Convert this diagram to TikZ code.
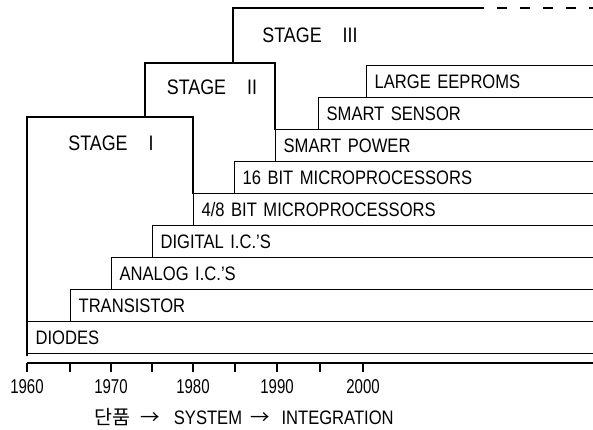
\documentclass[tikz,border=0pt]{standalone}
\usepackage{fontspec}
\setmainfont[FakeStretch=0.85]{Liberation Sans}
\newfontfamily\numfont[FakeStretch=0.75]{Liberation Sans}
\newfontfamily\korfont{Noto Sans CJK KR}
\usetikzlibrary{positioning}

\begin{document}
\begin{tikzpicture}[x=1pt, y=-1pt,
                rowbox/.style={draw, line width=1.3pt, anchor=north west,
                  minimum height=32pt, inner xsep=8pt, inner ysep=0pt,
                  align=left, font=\fontsize{19.5}{21}\selectfont},
                stageline/.style={line width=2.4pt, line cap=rect},
                stagelbl/.style={font=\fontsize{21}{24}\selectfont},
                yearlbl/.style={font=\numfont\fontsize{20}{22}\selectfont}
            ]

            \clip (0,0) rectangle (593,429);

            % technology rows, oldest at the bottom
            \node[rowbox, text width=559pt] (diodes) at (27, 321) {DIODES};
            \node[rowbox, text width=516pt] (trans) at (70, 289) {TRANSISTOR};
            \node[rowbox, text width=475pt] (analog) at (111, 257) {ANALOG I.C.'S};
            \node[rowbox, text width=434pt] (digital) at (152, 225) {DIGITAL I.C.'S};
            \node[rowbox, text width=393pt] (mp48) at (193, 193) {4/8 BIT MICROPROCESSORS};
            \node[rowbox, text width=352pt] (mp16) at (234, 161) {16 BIT MICROPROCESSORS};
            \node[rowbox, text width=311pt] (spower) at (275, 129) {SMART POWER};
            \node[rowbox, text width=268pt] (ssensor) at (318, 97) {SMART SENSOR};
            \node[rowbox, text width=220pt] (eeprom) at (366, 65) {LARGE EEPROMS};

            % stage outlines
            \draw[stageline] (diodes.south west) -- (27, 117) -- (193, 117) -- (mp48.north west);
            \draw[stageline] (145, 117) -- (145, 63) -- (275, 63) -- (spower.north west);
            \draw[stageline] (233, 63) -- (233, 8) -- (483, 8);
            \draw[stageline, line cap=butt, dash pattern=on 10pt off 13pt] (497, 8) -- (600, 8);

            \node[stagelbl] (st1) at (111, 143) {STAGE\quad I};
            \node[stagelbl] (st2) at (212, 87) {STAGE\quad II};
            \node[stagelbl] (st3) at (310, 35) {STAGE\quad III};

            % time axis
            \draw[line width=1.3pt] (27, 363) -- (600, 363);
            \draw[line width=1.3pt] (27, 363) -- (27, 372) (70, 363) -- (70, 372)
                (111, 363) -- (111, 372) (152, 363) -- (152, 372)
                (193, 363) -- (193, 372) (235, 363) -- (235, 372)
                (277, 363) -- (277, 372) (320, 363) -- (320, 372)
                (363, 363) -- (363, 372);

            \node[yearlbl] (y1960) at (27, 387) {1960};
            \node[yearlbl] (y1970) at (111, 387) {1970};
            \node[yearlbl] (y1980) at (193, 387) {1980};
            \node[yearlbl] (y1990) at (277, 387) {1990};
            \node[yearlbl] (y2000) at (363, 387) {2000};

            \node[font=\fontsize{19.5}{22}\selectfont, anchor=west] (trend) at (91, 417)
                {{\korfont 단품}\hspace{10pt}{\korfont →}\hspace{14pt}SYSTEM\hspace{8pt}{\korfont →}\hspace{12pt}INTEGRATION};

            \end{tikzpicture}
\end{document}
